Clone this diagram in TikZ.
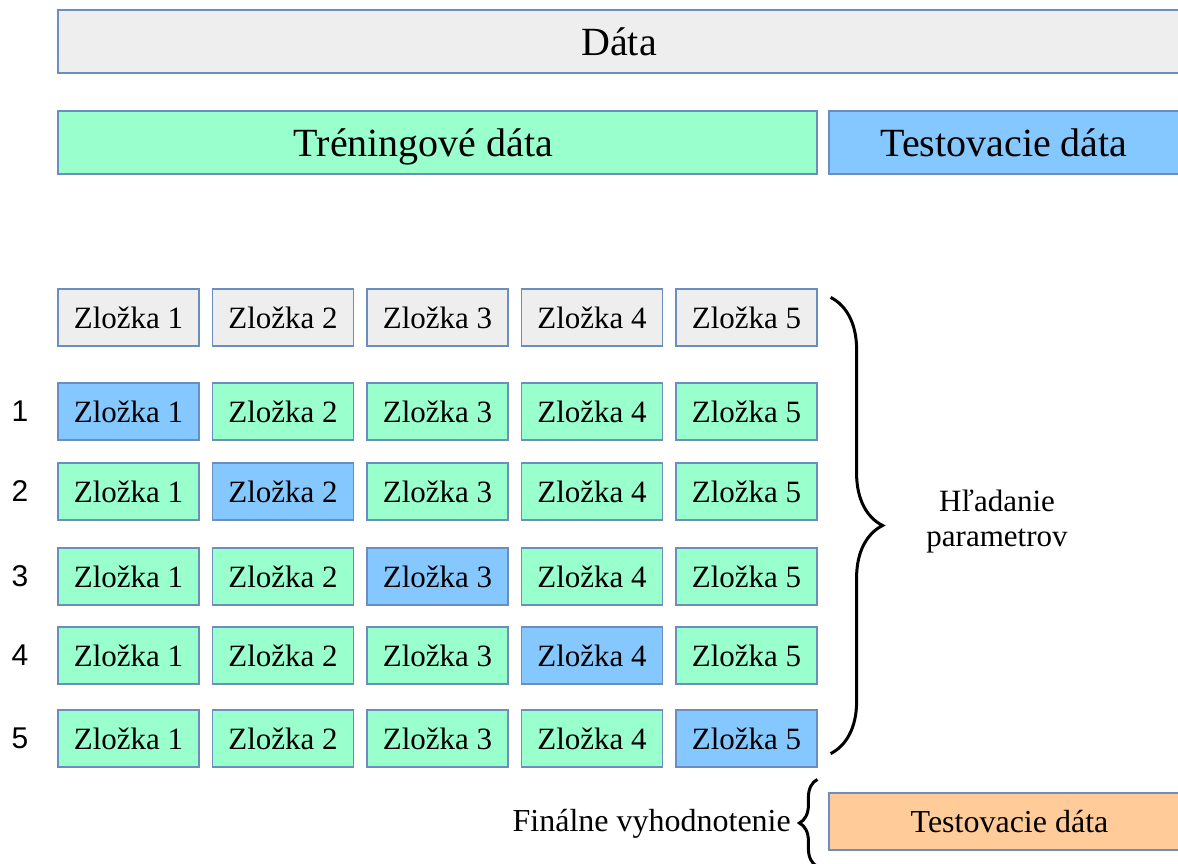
\documentclass[tikz,border=0pt]{standalone}
\usepackage{fontspec}
\setmainfont{Liberation Serif}
\newfontfamily\numfont{Liberation Sans}
\usepackage{xcolor}
\usepackage{tikz}
\usetikzlibrary{decorations.pathreplacing}
\definecolor{datagrey}{HTML}{EEEEEE}
\definecolor{traingreen}{HTML}{99FFCC}
\definecolor{testblue}{HTML}{85C7FF}
\definecolor{evalorange}{HTML}{FFCC99}
\definecolor{boxline}{HTML}{6C8EBF}
\tikzset{
  databox/.style={
    draw=boxline, line width=1.2pt, inner sep=0pt,
    minimum height=63pt, text height=27pt, text depth=0pt,
    font=\fontsize{40}{48}\selectfont
  },
  fold/.style={
    draw=boxline, line width=1.2pt, inner sep=0pt,
    minimum width=141pt, minimum height=57pt,
    font=\fontsize{31}{37}\selectfont
  },
  bracket/.style={
    decorate, line width=3pt,
    decoration={brace, amplitude=#1}
  }
}

\begin{document}
\begin{tikzpicture}[x=1pt,y=-1pt]
    \useasboundingbox (0,0) rectangle (1178,863);
    \clip (0,0) rectangle (1178,863);
    % whole data set and its split
    \node[databox,fill=datagrey,minimum width=1122pt] (data) at (619,41.5) {Dáta};
    \node[databox,fill=traingreen,minimum width=759pt] (train) at (437.5,142.5)
        {Tréningové dáta\hspace*{28pt}};
    \node[databox,fill=testblue,minimum width=350pt] (test) at (1004,142.5) {Testovacie dáta};
    % the five folds
    \foreach \c in {1,...,5}
        \node[fold,fill=datagrey] (h\c) at ({128.5+(\c-1)*154.5},317.5) {Zložka \c};
    \foreach \r/\y in {1/411.5,2/491.5,3/576.5,4/655.5,5/738.5} {
        \node[font=\numfont\fontsize{30}{34}\selectfont] (n\r) at (20,\y) {\r};
        \foreach \c in {1,...,5} {
            \ifnum\c=\r \def\clr{testblue}\else\def\clr{traingreen}\fi
            \node[fold,fill=\clr] (f\r\c) at ({128.5+(\c-1)*154.5},\y) {Zložka \c};
        }
    }
    % cross validation brace
    \draw[bracket=52pt] ([xshift=13pt,yshift=-9pt]h5.north east)
        -- ([xshift=13pt,yshift=14pt]f55.south east);
    \node[align=center,font=\fontsize{31}{35}\selectfont] (search) at (997,522)
        {Hľadanie\\parametrov};
    % final evaluation on the held out part
    \node[fold,fill=evalorange,minimum width=361pt,font=\fontsize{32}{36}\selectfont]
        (final) at (1009.5,821.5) {Testovacie dáta};
    \draw[bracket=18pt] ([xshift=-11pt,yshift=-16pt]final.south west)
        -- ([xshift=-11pt,yshift=13pt]final.north west);
    \node[anchor=east,inner sep=0pt,font=\fontsize{32}{36}\selectfont] (evaltext)
        at (791,824) {Finálne vyhodnotenie};
\end{tikzpicture}
\end{document}
